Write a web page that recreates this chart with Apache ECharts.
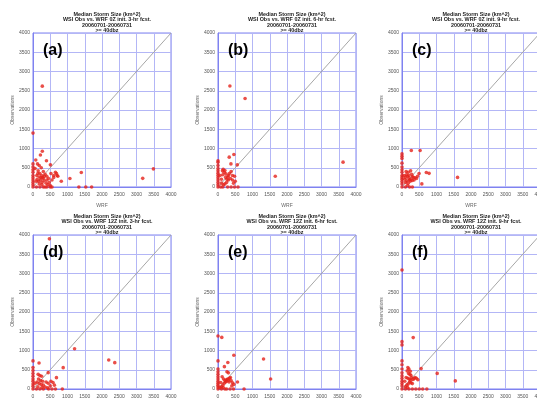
<!DOCTYPE html>
<html>
<head>
<meta charset="utf-8">
<script src="https://cdn.jsdelivr.net/npm/echarts@6/dist/echarts.min.js"></script>
<style>
  html, body { margin: 0; padding: 0; background: #fff; }
  #chart { width: 537px; height: 401px; }
</style>
</head>
<body>
<div id="chart"></div>
<script>
// Median storm size, WSI observations vs. WRF forecasts (km^2), pairs are [WRF, Obs]
const panelA = [
  [0,1400],[0,600],[0,520],[0,450],[0,380],[0,300],[0,240],[0,180],[0,120],[0,60],[0,0],
  [270,2620],[270,930],[215,830],[80,700],[390,680],[505,575],[130,600],[180,560],[240,500],
  [60,480],[150,420],[300,400],[200,350],[350,330],[110,300],[250,300],[180,260],[280,250],
  [400,280],[450,220],[520,350],[600,300],[650,380],[700,300],[550,180],[600,250],[680,350],
  [720,280],[820,150],[1070,220],[1400,375],[1330,0],[1530,0],[1700,0],[3180,225],[3490,470],
  [100,0],[200,0],[300,0],[350,0],[400,0],[500,0],[550,0],
  [120,200],[160,150],[220,180],[260,120],[320,160],[380,100],[180,80],[260,60],[400,180],
  [470,120],[90,150],[300,220],[230,240],[140,350],[330,280],[430,60],[500,40]
];
const panelB = [
  [0,680],[0,640],[0,560],[0,480],[0,420],[0,360],[0,300],[0,240],[0,180],[0,120],[0,60],[0,0],
  [345,2625],[785,2300],[460,845],[325,775],[375,600],[560,575],[1660,280],[3625,645],[580,0],
  [60,300],[100,200],[130,420],[150,460],[180,380],[200,430],[140,320],[220,250],[260,200],
  [300,300],[330,350],[380,400],[420,300],[480,280],[500,150],[250,120],[200,80],[160,60],
  [100,100],[300,180],[360,220],[420,180],[450,100],[140,0],[280,0],[380,0],[480,0],[80,0],
  [230,340],[290,260]
];
const panelC = [
  [0,860],[0,800],[0,740],[0,620],[0,520],[0,450],[0,380],[0,300],[0,250],[0,200],[0,140],[0,80],[0,0],
  [270,950],[525,950],[705,375],[785,355],[1610,250],[575,80],[495,350],
  [60,300],[100,250],[130,320],[160,280],[200,230],[180,380],[250,420],[280,330],[300,270],
  [220,180],[140,160],[100,120],[180,100],[260,200],[330,250],[380,240],[420,220],[450,280],
  [240,150],[300,170],[160,40],[220,0],[300,0],[100,0],[80,200],[120,400],[350,180],[200,300]
];
const panelD = [
  [0,730],[0,560],[0,480],[0,400],[0,330],[0,260],[0,200],[0,130],[0,70],[0,0],
  [475,3900],[1205,1045],[2195,755],[2370,685],[875,555],[175,675],[440,425],[680,295],
  [150,380],[200,350],[250,330],[160,260],[220,220],[280,200],[120,180],[180,140],[240,120],
  [300,100],[380,180],[440,150],[520,200],[580,170],[620,100],[500,80],[350,50],[420,30],
  [260,40],[140,60],[100,0],[200,0],[300,0],[450,0],[550,0],[650,0],[850,0],[60,150]
];
const panelE = [
  [0,1375],[0,730],[0,520],[0,450],[0,380],[0,320],[0,260],[0,200],[0,150],[0,100],[0,50],[0,0],
  [110,1340],[460,875],[285,690],[185,580],[1320,780],[1525,260],[565,180],[755,0],[260,450],[300,420],
  [120,320],[160,260],[200,220],[240,240],[280,260],[220,180],[180,150],[250,200],[300,230],
  [330,280],[360,300],[320,180],[380,220],[420,160],[460,120],[400,80],[140,100],[100,60],
  [60,40],[150,40],[250,0],[350,0],[450,0],[100,0],[200,0],[80,170]
];
const panelF = [
  [0,3090],[0,1230],[0,1145],[0,730],[0,630],[0,520],[0,420],[0,340],[0,270],[0,200],[0,140],[0,80],[0,0],
  [325,1335],[555,530],[1020,405],[1545,210],[720,0],
  [170,560],[200,520],[150,470],[190,400],[230,380],[260,350],[120,300],[170,280],[210,260],
  [250,230],[280,290],[320,250],[350,270],[380,300],[420,280],[460,240],[220,180],[260,160],
  [300,140],[180,130],[140,100],[100,60],[160,40],[300,0],[400,0],[500,0],[600,0],[200,0],
  [100,0],[80,200],[240,460]
];

const panelData = [panelA, panelB, panelC, panelD, panelE, panelF];
const panelTags = ['(a)', '(b)', '(c)', '(d)', '(e)', '(f)'];
const initTimes = ['0Z', '0Z', '0Z', '12Z', '12Z', '12Z'];
const fcstHours = ['3-hr', '6-hr', '9-hr', '3-hr', '6-hr', '9-hr'];
const dateRange = '20060701-20060731';
const threshold = '>= 40dbz';
const axisMax = 4000;
const axisStep = 500;
const oneToOne = [[0, 0], [4000, 4000]];

// plot-area placement of each panel
const lefts = [33, 218, 402];
const tops = [33, 235];
const plotW = 138, plotH = 154;

const font = 'Liberation Sans, Arial, sans-serif';
const grids = [], xAxes = [], yAxes = [], series = [], titles = [];

panelData.forEach((pts, i) => {
  const col = i % 3, row = Math.floor(i / 3);
  const left = lefts[col], top = tops[row];
  grids.push({ left: left, top: top, width: plotW, height: plotH, show: true,
    outerBoundsMode: 'none', containLabel: false,
    borderColor: '#7f82f0', borderWidth: 1, backgroundColor: '#fff' });
  const axisCommon = {
    gridIndex: i, type: 'value', min: 0, max: axisMax, interval: axisStep,
    axisLine: { show: true, lineStyle: { color: '#7f82f0', width: 1 } },
    axisTick: { show: false },
    splitLine: { show: true, lineStyle: { color: '#b3b6f6', width: 1 } },
    axisLabel: { fontSize: 5, color: '#555', fontFamily: font, formatter: v => String(v) },
    nameTextStyle: { fontSize: 5, color: '#666', fontFamily: font }
  };
  xAxes.push(Object.assign({}, axisCommon, {
    name: 'WRF', nameLocation: 'middle', nameGap: 16,
    axisLabel: Object.assign({}, axisCommon.axisLabel, { margin: 5 })
  }));
  yAxes.push(Object.assign({}, axisCommon, {
    name: 'Observations', nameLocation: 'middle', nameGap: 18, nameRotate: 90,
    axisLabel: Object.assign({}, axisCommon.axisLabel, { margin: 3 })
  }));
  series.push({
    type: 'line', xAxisIndex: i, yAxisIndex: i, data: oneToOne,
    symbol: 'none', silent: true, z: 2,
    lineStyle: { color: '#a6a6a6', width: 1 }
  });
  series.push({
    type: 'scatter', xAxisIndex: i, yAxisIndex: i, data: pts,
    symbol: 'circle', symbolSize: 3.6, z: 3,
    itemStyle: { color: '#e5231b' }
  });
  titles.push({
    text: 'Median Storm Size (km^2)\nWSI Obs vs. WRF ' + initTimes[i] + ' init. ' + fcstHours[i] +
          ' fcst.\n' + dateRange + '\n' + threshold,
    left: left + plotW / 2, top: row === 0 ? 7 : 209, textAlign: 'center',
    textStyle: { fontSize: 5.4, lineHeight: 5.3, fontWeight: 'bold', color: '#222', fontFamily: font }
  });
  titles.push({
    text: panelTags[i], left: left + 5, top: top + 5,
    textStyle: { fontSize: 16, fontWeight: 'bold', color: '#000', fontFamily: font }
  });
});

const chart = echarts.init(document.getElementById('chart'), null, { renderer: 'canvas' });
chart.setOption({
  animation: false,
  backgroundColor: '#fff',
  title: titles,
  grid: grids,
  xAxis: xAxes,
  yAxis: yAxes,
  series: series
});
</script>
</body>
</html>
